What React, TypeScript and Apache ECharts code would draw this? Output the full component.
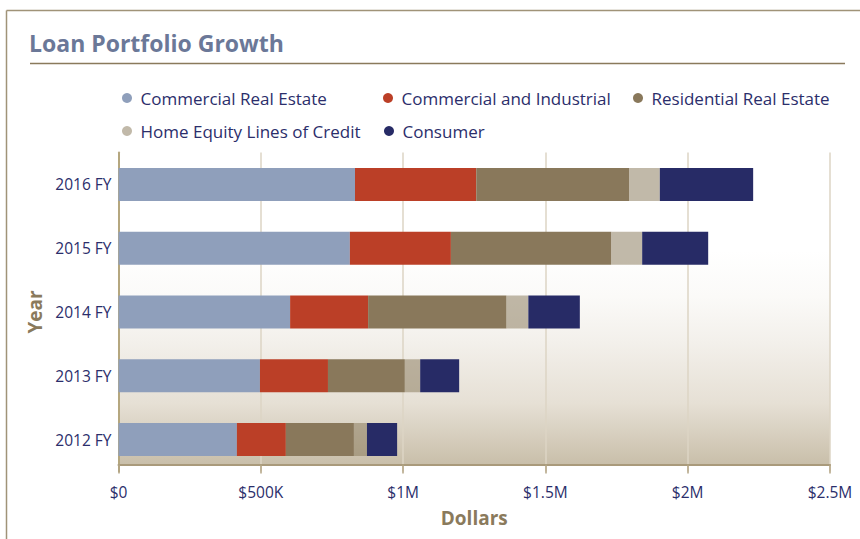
import React, { useEffect, useRef } from "react";
import * as echarts from "echarts";

// ---- data (thousands of dollars) ----
const years = ["2012 FY", "2013 FY", "2014 FY", "2015 FY", "2016 FY"];
const seriesNames = [
  "Commercial Real Estate",
  "Commercial and Industrial",
  "Residential Real Estate",
  "Home Equity Lines of Credit",
  "Consumer",
];
const commercialRealEstate = [416, 497, 603, 813, 831];
const commercialIndustrial = [172, 239, 274, 355, 426];
const residentialRealEstate = [239, 270, 486, 563, 537];
const homeEquity = [46, 54, 77, 109, 108];
const consumer = [106, 137, 181, 232, 328];
const xTickLabels = ["$0", "$500K", "$1M", "$1.5M", "$2M", "$2.5M"];

const seriesValues = [
  commercialRealEstate,
  commercialIndustrial,
  residentialRealEstate,
  homeEquity,
  consumer,
];
const colors = ["#8f9fbb", "#bb3f27", "#89785b", "rgba(137,120,91,0.52)", "#272b66"];

const NAVY = "#2b2e6b";
const TAN = "#8a7a5c";
const FONT = "'Open Sans', 'Noto Sans', sans-serif";

export default function App() {
  const ref = useRef<HTMLDivElement>(null);

  useEffect(() => {
    if (!ref.current) return;
    const chart = echarts.init(ref.current, null, { renderer: "svg" });

    const legendPos = [
      { left: 122, top: 88 },
      { left: 383, top: 88 },
      { left: 633, top: 88 },
      { left: 122, top: 121 },
      { left: 384, top: 121 },
    ];

    const option: any = {
      animation: false,
      backgroundColor: "#ffffff",
      title: {
        text: "Loan Portfolio Growth",
        left: 29,
        top: 29,
        padding: 0,
        textStyle: {
          fontFamily: FONT,
          fontSize: 23,
          fontWeight: "bold",
          color: "#6b7898",
          lineHeight: 28,
        },
      },
      legend: seriesNames.map((name, i) => ({
        data: [name],
        left: legendPos[i].left,
        top: legendPos[i].top,
        padding: 0,
        icon: "circle",
        itemWidth: 17,
        itemHeight: 10,
        selectedMode: false,
        textStyle: {
          fontFamily: FONT,
          fontSize: 17,
          color: NAVY,
          lineHeight: 20,
        },
      })),
      graphic: [
        {
          type: "rect",
          z: -1,
          silent: true,
          shape: { x: 118.5, y: 159, width: 711.5, height: 305 },
          style: {
            fill: new echarts.graphic.LinearGradient(0, 0, 0, 1, [
              { offset: 0, color: "#ffffff" },
              { offset: 0.3, color: "#ffffff" },
              { offset: 0.45, color: "#fbfaf8" },
              { offset: 0.6, color: "#f3f0eb" },
              { offset: 0.8, color: "#e6e0d5" },
              { offset: 1, color: "#c9bfaa" },
            ]),
          },
        },
        {
          type: "line",
          silent: true,
          shape: { x1: 6.5, y1: 10.5, x2: 860, y2: 10.5 },
          style: { stroke: "#a09378", lineWidth: 1.5 },
        },
        {
          type: "line",
          silent: true,
          shape: { x1: 6.5, y1: 10.5, x2: 6.5, y2: 539 },
          style: { stroke: "#a09378", lineWidth: 1.5 },
        },
        {
          type: "line",
          silent: true,
          shape: { x1: 30, y1: 63.5, x2: 845, y2: 63.5 },
          style: { stroke: TAN, lineWidth: 1.5 },
        },
      ],
      grid: {
        left: 118.5,
        right: 30,
        top: 152.6,
        bottom: 67.6,
        containLabel: false,
      },
      xAxis: {
        type: "value",
        min: 0,
        max: 2500,
        interval: 500,
        offset: -7,
        name: "Dollars",
        nameLocation: "middle",
        nameGap: 44,
        nameTextStyle: {
          fontFamily: FONT,
          fontSize: 19,
          fontWeight: "bold",
          color: TAN,
        },
        axisLine: { show: true, lineStyle: { color: "#a99a7b", width: 2 } },
        axisTick: {
          show: true,
          length: 9,
          lineStyle: { color: "#b3a585", width: 1.5 },
        },
        axisLabel: {
          margin: 20,
          fontFamily: FONT,
          fontSize: 15.5,
          color: NAVY,
          formatter: (_v: number, idx: number) => xTickLabels[idx] ?? "",
        },
        splitLine: { show: true, lineStyle: { color: "#ddd5c4", width: 1.5 } },
      },
      yAxis: {
        type: "category",
        data: years,
        name: "Year",
        nameLocation: "middle",
        nameGap: 71,
        nameTextStyle: {
          fontFamily: FONT,
          fontSize: 19,
          fontWeight: "bold",
          color: TAN,
        },
        axisLine: { show: true, lineStyle: { color: "#b5a77f", width: 2 } },
        axisTick: { show: false },
        axisLabel: {
          margin: 7,
          fontFamily: FONT,
          fontSize: 15.5,
          color: NAVY,
        },
        splitLine: { show: false },
      },
      series: seriesNames.map((name, i) => ({
        name,
        type: "bar",
        stack: "total",
        barWidth: 33,
        itemStyle: { color: colors[i] },
        data: seriesValues[i],
      })),
    };

    chart.setOption(option);
    return () => chart.dispose();
  }, []);

  return (
    <div
      ref={ref}
      style={{ position: "absolute", left: 0, top: 0, width: 860, height: 539 }}
    />
  );
}
